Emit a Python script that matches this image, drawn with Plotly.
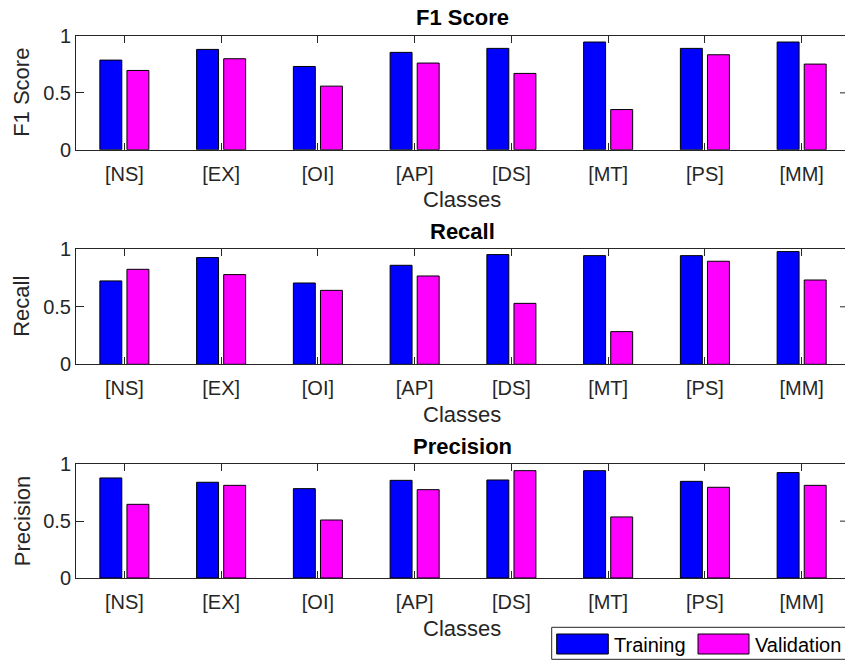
import plotly.graph_objects as go

# Class labels and per-metric scores
classes = ["[NS]", "[EX]", "[OI]", "[AP]", "[DS]", "[MT]", "[PS]", "[MM]"]

f1_train = [0.788, 0.882, 0.732, 0.856, 0.891, 0.947, 0.891, 0.947]
f1_val = [0.697, 0.800, 0.559, 0.762, 0.671, 0.353, 0.835, 0.753]

recall_train = [0.725, 0.928, 0.707, 0.861, 0.954, 0.945, 0.945, 0.980]
recall_val = [0.826, 0.780, 0.643, 0.768, 0.530, 0.284, 0.896, 0.733]

precision_train = [0.880, 0.842, 0.786, 0.859, 0.862, 0.944, 0.850, 0.927]
precision_val = [0.648, 0.815, 0.510, 0.777, 0.944, 0.537, 0.798, 0.815]

panels = [
    ("F1 Score", f1_train, f1_val),
    ("Recall", recall_train, recall_val),
    ("Precision", precision_train, precision_val),
]

W, H = 845, 662
FONT = "Liberation Sans, Arial, Helvetica, sans-serif"
AX = "#262626"
BLUE = "#0000FF"
MAGENTA = "#FF00FF"

# plot-area pixel extents (top, bottom) for each panel
rows_px = [(36.0, 149.7), (249.3, 364.3), (464.3, 578.0)]
left_px = 76.0


def py(v):
    return 1 - v / H


def pxx(v):
    return v / W


fig = go.Figure()
annotations = []
shapes = []

for i, (name, tr, va) in enumerate(panels):
    n = "" if i == 0 else str(i + 1)
    xa, ya = "x" + n, "y" + n
    fig.add_trace(go.Bar(x=classes, y=tr, name="Training", xaxis=xa, yaxis=ya,
                         marker=dict(color=BLUE, line=dict(color="black", width=1)),
                         showlegend=False))
    fig.add_trace(go.Bar(x=classes, y=va, name="Validation", xaxis=xa, yaxis=ya,
                         marker=dict(color=MAGENTA, line=dict(color="black", width=1)),
                         showlegend=False))
    top, bot = rows_px[i]
    fig.update_layout(**{
        "xaxis" + n: dict(
            domain=[pxx(left_px), 1.0], anchor=ya, automargin=False,
            range=[-0.5, 7.448], type="category",
            showline=True, linecolor=AX, linewidth=1, mirror="allticks",
            ticks="inside", ticklen=7, tickcolor=AX, tickwidth=1,
            ticklabelstandoff=6,
            tickfont=dict(family=FONT, size=20, color=AX),
            showgrid=False, zeroline=False, fixedrange=True,
        ),
        "yaxis" + n: dict(
            domain=[py(bot), py(top)], anchor=xa, automargin=False,
            range=[0, 1], tickvals=[0, 0.5, 1], ticktext=["0", "0.5", "1"],
            showline=True, linecolor=AX, linewidth=1,
            ticks="inside", ticklen=8, tickcolor=AX, tickwidth=1,
            tickfont=dict(family=FONT, size=20, color=AX),
            showgrid=False, zeroline=False, fixedrange=True,
        ),
    })
    cx = (left_px + 848) / 2
    # panel title
    annotations.append(dict(text="<b>%s</b>" % name, x=pxx(cx), y=py(top - 18),
                            xref="paper", yref="paper", showarrow=False,
                            xanchor="center", yanchor="middle",
                            font=dict(family=FONT, size=22, color="black")))
    # x-axis label
    annotations.append(dict(text="Classes", x=pxx(cx), y=py(bot + 50),
                            xref="paper", yref="paper", showarrow=False,
                            xanchor="center", yanchor="middle",
                            font=dict(family=FONT, size=22, color=AX)))
    # y-axis label
    annotations.append(dict(text=name, x=pxx(22), y=py((top + bot) / 2),
                            xref="paper", yref="paper", showarrow=False,
                            textangle=-90, xanchor="center", yanchor="middle",
                            font=dict(family=FONT, size=22, color=AX)))
    # right-side tick at 0.5 (axis edge lies just past the page)
    shapes.append(dict(type="line", xref="paper", yref=ya, x0=pxx(840), x1=1.0,
                       y0=0.5, y1=0.5, line=dict(color=AX, width=1)))

# legend box with swatches
shapes.append(dict(type="rect", xref="paper", yref="paper",
                   x0=pxx(551.7), x1=pxx(852), y0=py(659.3), y1=py(627.3),
                   line=dict(color=AX, width=1), fillcolor="white"))
for (x0, x1, col, label, tx) in [(556.7, 608.3, BLUE, "Training", 612),
                                 (698, 749, MAGENTA, "Validation", 753)]:
    shapes.append(dict(type="rect", xref="paper", yref="paper",
                       x0=pxx(x0), x1=pxx(x1), y0=py(654), y1=py(634),
                       line=dict(color="black", width=1), fillcolor=col))
    annotations.append(dict(text=label, x=pxx(tx), y=py(644.5), xref="paper", yref="paper",
                            showarrow=False, xanchor="left", yanchor="middle",
                            font=dict(family=FONT, size=20, color="black")))

fig.update_layout(
    width=W, height=H,
    margin=dict(l=0, r=0, t=0, b=0, autoexpand=False),
    paper_bgcolor="white", plot_bgcolor="white",
    barmode="group", bargap=0.44, bargroupgap=0.19,
    annotations=annotations, shapes=shapes,
    showlegend=False,
)

fig.write_html("out.html", config={"displayModeBar": False})
